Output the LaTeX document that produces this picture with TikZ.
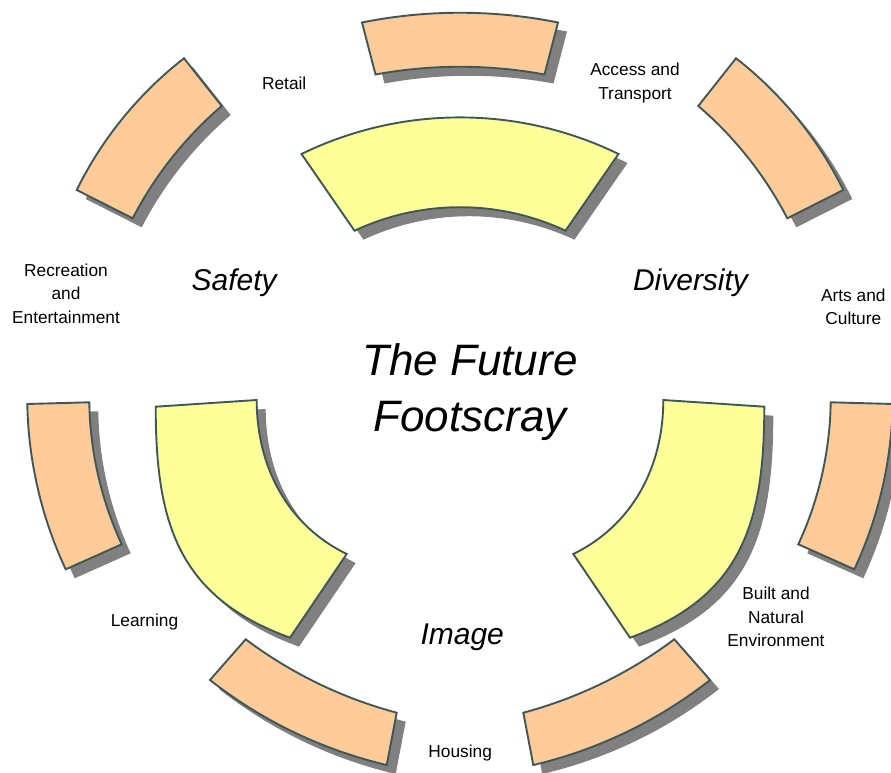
\documentclass[tikz,border=0pt]{standalone}
\usepackage{fontspec}
\setmainfont{Liberation Sans}
\definecolor{orangec}{HTML}{FFCC99}
\definecolor{yellowc}{HTML}{FFFF99}
\definecolor{edgec}{HTML}{3F5757}
\definecolor{shadowc}{HTML}{808080}
\tikzset{
  lab/.style={font=\fontsize{17.3}{23.4}\selectfont, align=center, inner sep=0pt, anchor=base},
  theme/.style={font=\fontsize{30}{36}\selectfont\itshape, inner sep=0pt, anchor=base},
  titletext/.style={font=\fontsize{44}{56.7}\selectfont\itshape, align=center, inner sep=0pt, anchor=base},
  blockline/.style={draw=edgec, line width=1.9pt}
}
% shape outlines (pixel coordinates, y up)
\def\pTopO{(362,749.5) to[bend left=11.4,looseness=0.86] (558,749.5) -- (544.5,697.5) to[bend right=10.5,looseness=0.86] (375.5,697.5) -- cycle}
\def\pTopY{(301.5,618) to[bend left=26,looseness=0.9] (618.5,618) -- (565.5,541.3) to[bend right=25,looseness=0.9] (354.5,541.3) -- cycle}
\def\pULO{(76.7,582) to[bend left=13,looseness=0.86] (184,713.7) -- (221.7,666) to[bend right=11,looseness=0.86] (132.7,553.7) -- cycle}
\def\pLO{(27.3,368) to[bend right=12,looseness=0.86] (65.7,202.7) -- (121.7,227.7) to[bend left=12,looseness=0.86] (89.3,369.7) -- cycle}
\def\pBLO{(210,92) to[bend right=12.5,looseness=0.86] (386.7,7) -- (396.7,59.3) to[bend left=11,looseness=0.86] (245.7,132.7) -- cycle}
\def\pLY{(155.7,365.3) to[out=-90,in=160,distance=118pt] (290,134.3) -- (346.7,218) to[out=154,in=-90,looseness=0.95] (256.7,372) -- cycle}
\newcommand\blockshape[3]{%
  \fill[shadowc, shift={(#3,-9)}] #2;
  \filldraw[fill=#1, blockline] #2;}
\begin{document}
\begin{tikzpicture}[x=1pt,y=1pt]
\useasboundingbox (0,0) rectangle (891,772);
\fill[white] (0,0) rectangle (891,772);
% symmetric top pieces
\blockshape{orangec}{\pTopO}{9}
\blockshape{yellowc}{\pTopY}{9}
% left half
\blockshape{orangec}{\pULO}{9}
\blockshape{orangec}{\pLO}{9}
\blockshape{orangec}{\pBLO}{9}
\blockshape{yellowc}{\pLY}{9}
% right half (mirror about x = 460)
\begin{scope}[xshift=920pt, xscale=-1]
\blockshape{orangec}{\pULO}{-9}
\blockshape{orangec}{\pLO}{-9}
\blockshape{orangec}{\pBLO}{-9}
\blockshape{yellowc}{\pLY}{-9}
\end{scope}
% labels (anchor=base is the baseline of the last line)
\node[lab] (retail) at (284.2,682.7) {Retail};
\node[lab] (access) at (635,672.7) {Access and\\Transport};
\node[lab] (recreation) at (66,448.7) {Recreation\\and\\Entertainment};
\node[lab] (arts) at (853.3,447) {Arts and\\Culture};
\node[lab] (learning) at (144.5,146) {Learning};
\node[lab] (built) at (776,125.3) {Built and\\Natural\\Environment};
\node[lab] (housing) at (460.2,14.7) {Housing};
\node[theme] (safety) at (234.2,481.3) {Safety};
\node[theme] (diversity) at (690.5,481.3) {Diversity};
\node[theme] (image) at (462.2,127.7) {Image};
\node[titletext] (title) at (470,340.3) {The Future\\Footscray};
\end{tikzpicture}
\end{document}
